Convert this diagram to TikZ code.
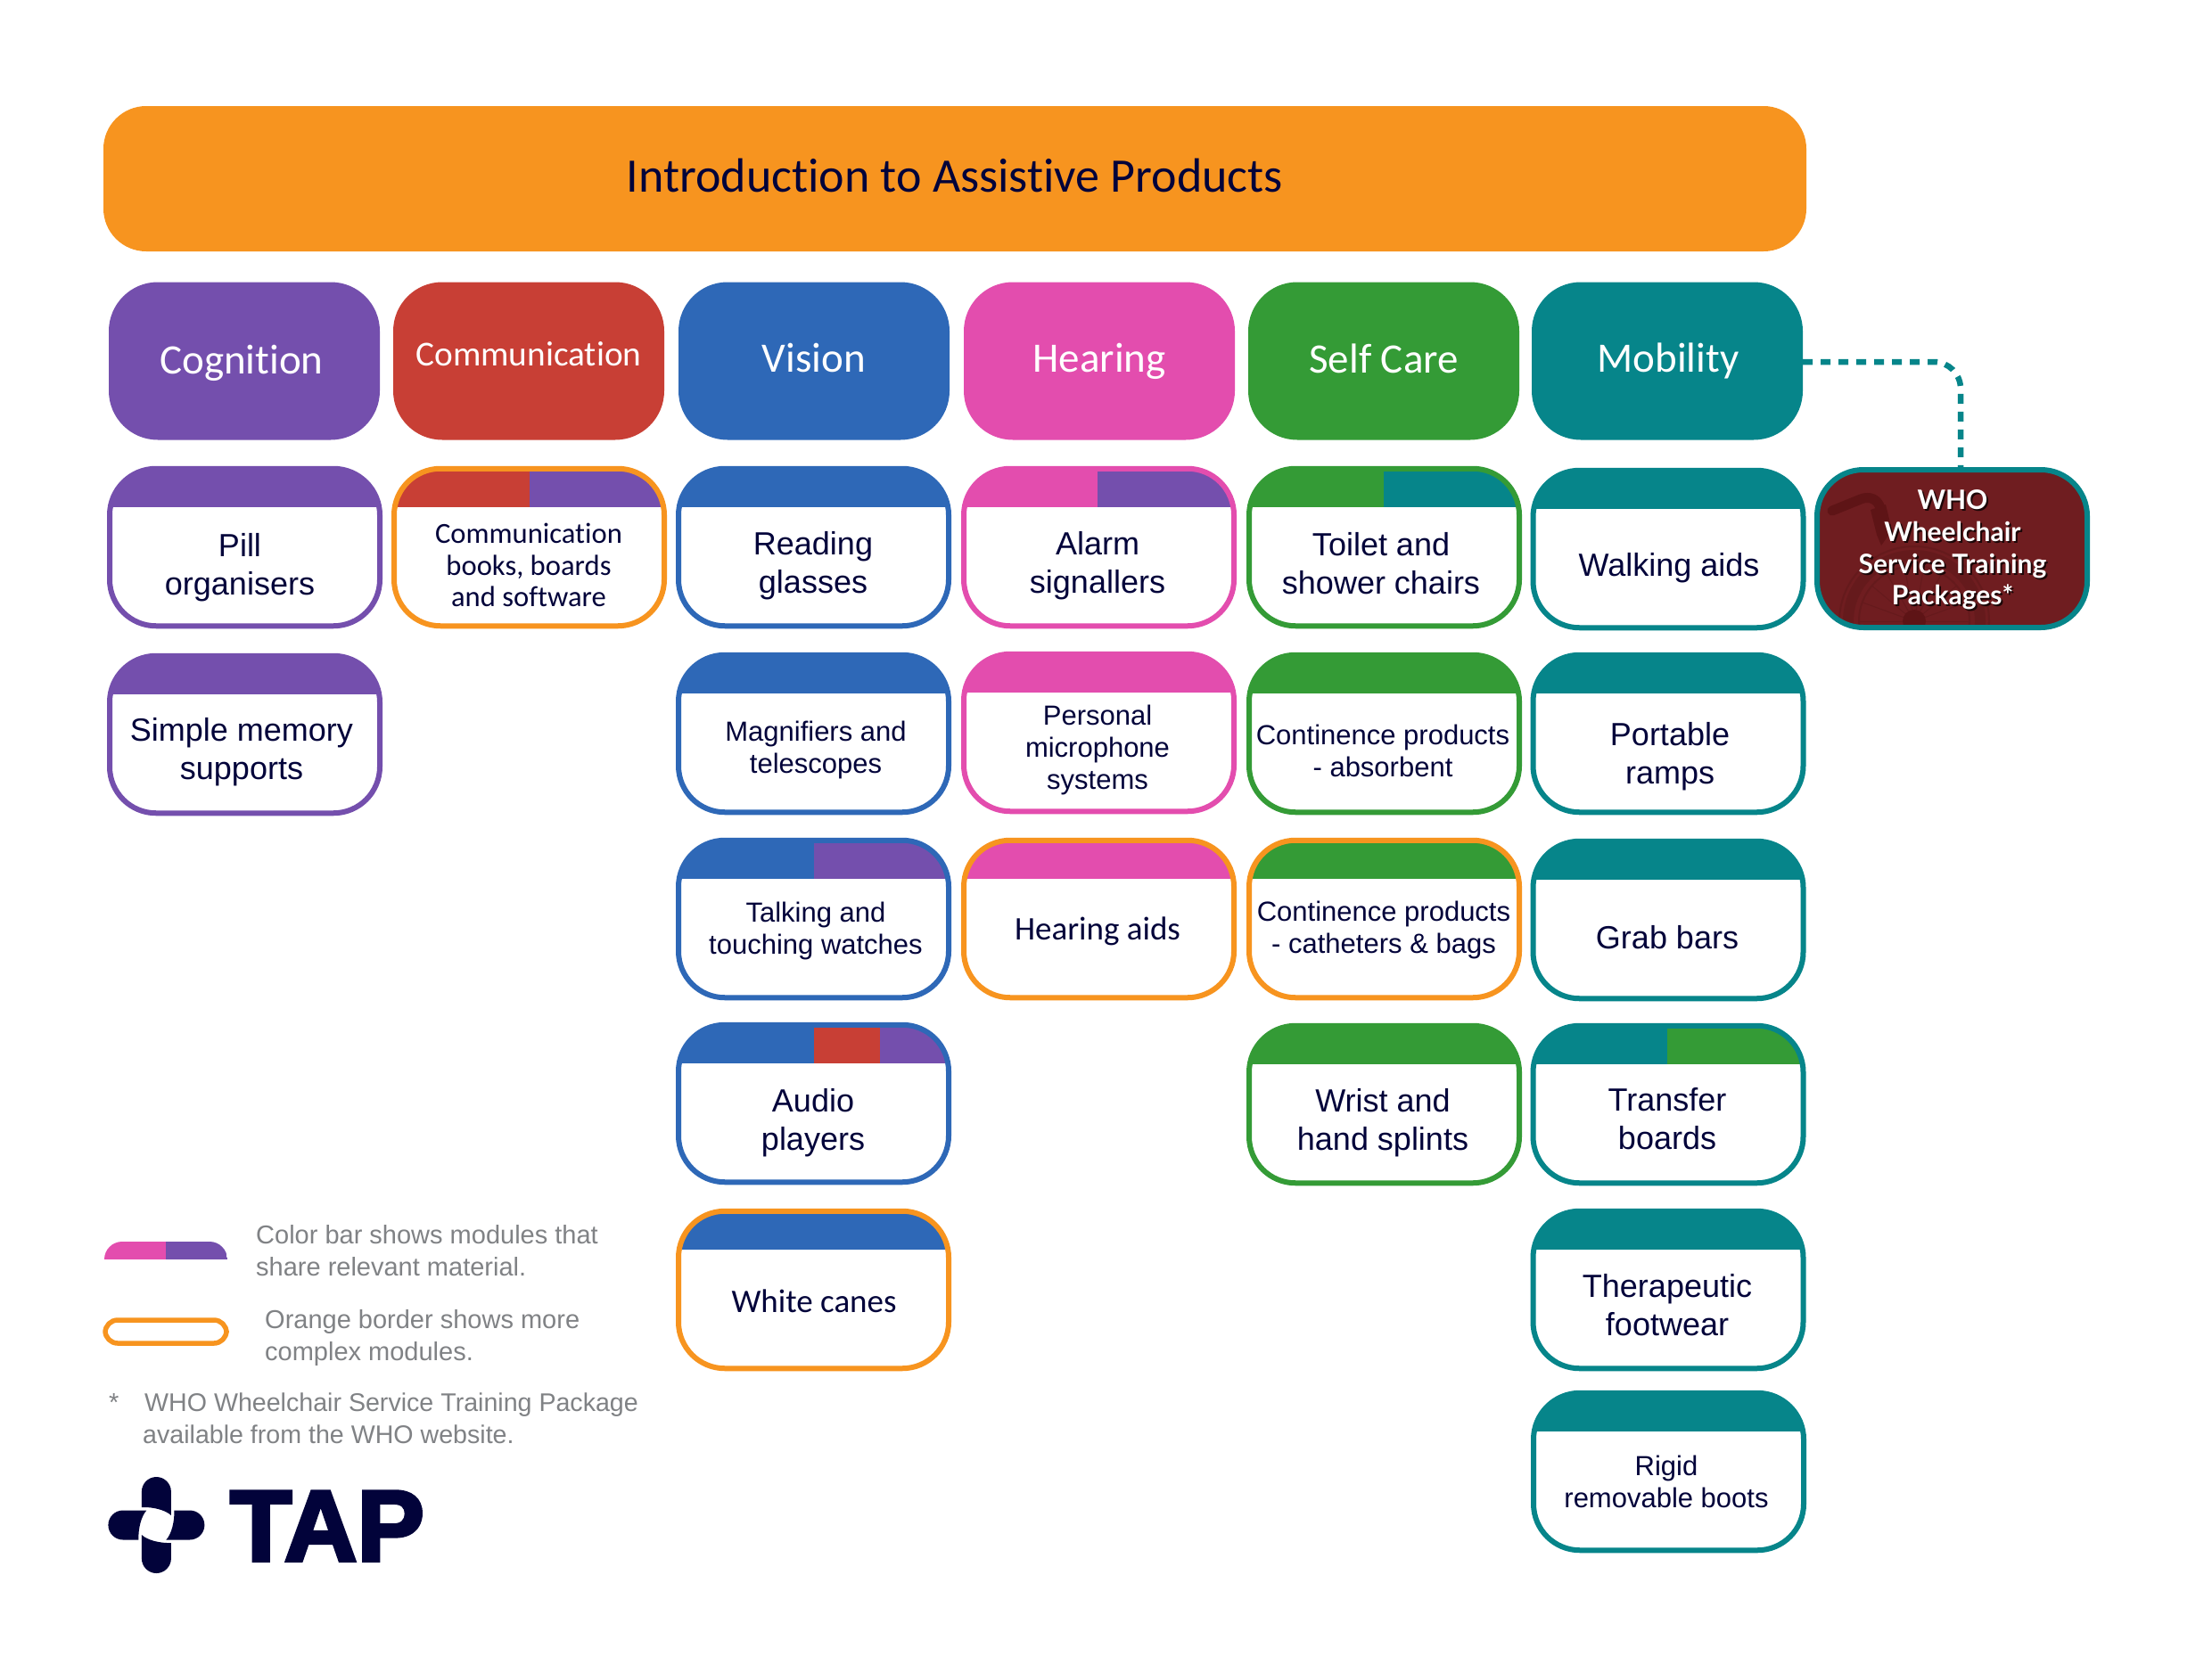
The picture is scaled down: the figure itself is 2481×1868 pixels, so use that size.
\documentclass[tikz,border=0pt]{standalone}
\usepackage{fontspec}
\setmainfont{Liberation Sans}
\newfontfamily\humf[Ligatures=CommonOff]{Carlito}
\newfontfamily\lator{Lato}
\newfontfamily\tapf[FakeBold=3.5]{Liberation Sans Bold}
\definecolor{cpurple}{HTML}{744FAD}
\definecolor{cred}{HTML}{C83F35}
\definecolor{cblue}{HTML}{2E68B7}
\definecolor{cpink}{HTML}{E34DAE}
\definecolor{cgreen}{HTML}{349B36}
\definecolor{cteal}{HTML}{06858A}
\definecolor{corange}{HTML}{F7941F}
\definecolor{cnavy}{HTML}{02033A}
\definecolor{cwine}{HTML}{6F1D20}
\definecolor{cwined}{HTML}{5E1416}
\definecolor{cwinem}{HTML}{651A1C}
\definecolor{cgrey}{HTML}{808285}
\tikzset{
 x=1pt,y=-1pt,
 headbox/.style={rectangle,rounded corners=55pt,minimum width=304pt,minimum height=177pt,inner sep=0pt,outer sep=0pt},
 cardbox/.style={rectangle,rounded corners=52pt,minimum width=303pt,minimum height=176.5pt,inner sep=0pt,outer sep=0pt,fill=white,line width=6pt},
 headtext/.style={text=white,inner sep=0pt,font=\humf\fontsize{47}{50}\selectfont},
 bigtext/.style={text=cnavy,inner sep=0pt,align=center,font=\fontsize{36}{43}\selectfont},
 smalltext/.style={text=cnavy,inner sep=0pt,align=center,font=\fontsize{31}{36}\selectfont},
 humtext/.style={text=cnavy,inner sep=0pt,align=center,font=\humf\fontsize{37}{35.5}\selectfont},
 legtext/.style={text=cgrey,inner sep=0pt,anchor=base west,font=\fontsize{29}{35.5}\selectfont},
 legsmall/.style={legtext,font=\fontsize{28.6}{35.5}\selectfont},
 whotext/.style={inner sep=0pt,align=center,font=\lator\bfseries\fontsize{30}{35.7}\selectfont},
 link/.style={draw=cteal,line width=6.5pt,dash pattern=on 11pt off 9pt,rounded corners=30pt},
}
% name, left, top, border colour, bar colour
\newcommand{\cardbase}[5]{%
 \node[cardbox] (#1) at (#2+154.5,#3+91) {};
 \begin{scope}
  \clip[rounded corners=52pt] (#1.north west) rectangle (#1.south east);
  \fill[#5] (#2,#3) rectangle (#2+310,#3+45.5);
  \cardextra
 \end{scope}
 \draw[#4,line width=6pt,rounded corners=52pt] (#1.north west) rectangle (#1.south east);
 \gdef\cardextra{}%
}
\newcommand{\cardextra}{}
\newcommand{\extra}[4]{\gdef\cardextra{\fill[#1] (#2,#3) rectangle (#4,#3+45.5);}}
\newcommand{\extrb}[7]{\gdef\cardextra{\fill[#1] (#2,#3) rectangle (#4,#3+45.5);\fill[#5] (#6,#3) rectangle (#7,#3+45.5);}}
\begin{document}
\begin{tikzpicture}
\useasboundingbox (0,0) rectangle (2481,1868);
\fill[white] (0,0) rectangle (2481,1868);
% title
\node[rectangle,fill=corange,rounded corners=48pt,minimum width=1910pt,minimum height=163pt,inner sep=0pt,outer sep=0pt] (title) at (1071,200.5) {};
\node[text=cnavy,inner sep=0pt,font=\humf\fontsize{54}{60}\selectfont] (titletext) at (1071,196.5) {Introduction to Assistive Products};
% headers
\node[headbox,fill=cpurple] (cog) at (274,405) {};
\node[headbox,fill=cred] (com) at (593,405) {};
\node[headbox,fill=cblue] (vis) at (913,405) {};
\node[headbox,fill=cpink] (hea) at (1233,405) {};
\node[headbox,fill=cgreen] (sel) at (1552,405) {};
\node[headbox,fill=cteal] (mob) at (1870,405) {};
\node[headtext] (cogt) at (271,407) {Cognition};
\node[headtext,font=\humf\fontsize{39.3}{44}\selectfont] (comt) at (593,397) {Communication};
\node[headtext] (vist) at (913,402) {Vision};
\node[headtext] (heat) at (1233,405) {Hearing};
\node[headtext] (selt) at (1552,402) {Self Care};
\node[headtext] (mobt) at (1871,405) {Mobility};
% cards column 1
\cardbase{pill}{120}{523}{cpurple}{cpurple}
\node[bigtext] (pillt) at (269,636.5) {Pill\\organisers};
\cardbase{memo}{120}{733}{cpurple}{cpurple}
\node[bigtext] (memot) at (271,844) {Simple memory\\supports};
% column 2
\extra{cpurple}{594}{523}{748}
\cardbase{book}{439}{523}{corange}{cred}
\node[humtext,font=\humf\fontsize{32.6}{35.5}\selectfont] (bookt) at (593,634) {Communication\\books, boards\\and software};
% column 3
\cardbase{read}{758}{523}{cblue}{cblue}
\node[bigtext] (readt) at (912,635) {Reading\\glasses};
\cardbase{magn}{758}{732}{cblue}{cblue}
\node[smalltext] (magnt) at (915,841) {Magnifiers and\\telescopes};
\extra{cpurple}{913}{940}{1068}
\cardbase{talk}{758}{940}{cblue}{cblue}
\node[smalltext] (talkt) at (915,1044) {Talking and\\touching watches};
\extrb{cred}{913}{1147}{987}{cpurple}{987}{1068}
\cardbase{audi}{758}{1147}{cblue}{cblue}
\node[bigtext] (audit) at (912,1259.5) {Audio\\players};
\cardbase{cane}{758}{1356}{corange}{cblue}
\node[humtext] (canet) at (913,1460) {White canes};
% column 4
\extra{cpurple}{1231}{523}{1388}
\cardbase{alar}{1078}{523}{cpink}{cpink}
\node[bigtext] (alart) at (1231,635) {Alarm\\signallers};
\cardbase{pers}{1078}{731}{cpink}{cpink}
\node[smalltext] (perst) at (1231,841.5) {Personal\\microphone\\systems};
\cardbase{haid}{1078}{940}{corange}{cpink}
\node[humtext] (haidt) at (1231,1044.5) {Hearing aids};
% column 5
\extra{cteal}{1552}{523}{1708}
\cardbase{toil}{1398}{523}{cgreen}{cgreen}
\node[bigtext] (toilt) at (1549,632) {Toilet and\\shower chairs};
\cardbase{cabs}{1398}{732}{cgreen}{cgreen}
\node[smalltext] (cabst) at (1551,842) {Continence products\\- absorbent};
\cardbase{ccat}{1398}{940}{corange}{cgreen}
\node[smalltext] (ccatt) at (1552,1043.5) {Continence products\\- catheters \& bags};
\cardbase{wris}{1398}{1148}{cgreen}{cgreen}
\node[bigtext] (wrist) at (1551,1260) {Wrist and\\hand splints};
% column 6
\cardbase{walk}{1716.5}{525}{cteal}{cteal}
\node[bigtext] (walkt) at (1872,637) {Walking aids};
\cardbase{ramp}{1716.5}{732}{cteal}{cteal}
\node[bigtext] (rampt) at (1873,849) {Portable\\ramps};
\cardbase{grab}{1716.5}{941}{cteal}{cteal}
\node[bigtext] (grabt) at (1870,1052) {Grab bars};
\extra{cgreen}{1870}{1148}{2026}
\cardbase{tran}{1716.5}{1148}{cteal}{cteal}
\node[bigtext] (trant) at (1870,1255.5) {Transfer\\boards};
\cardbase{ther}{1716.5}{1356}{cteal}{cteal}
\node[bigtext] (thert) at (1870,1464) {Therapeutic\\footwear};
\cardbase{rigi}{1717}{1560}{cteal}{cteal}
\node[smalltext] (rigit) at (1869,1662) {Rigid\\removable boots};
% WHO box
\node[rectangle,rounded corners=52pt,fill=cwine,minimum width=303pt,minimum height=177pt,inner sep=0pt,outer sep=0pt] (who) at (2189.5,615.5) {};
\begin{scope}
 \clip[rounded corners=52pt] (who.north west) rectangle (who.south east);
 \draw[cwinem,line width=12pt] (2147,697) circle[radius=74pt];
 \draw[cwinem,line width=2pt] (2147,697) circle[radius=84pt];
 \draw[cwinem,line width=2pt] (2147,697) circle[radius=62pt];
 \foreach \a in {0,20,...,340}{\draw[cwinem,line width=1pt] (2147,697) -- ++(\a:62pt);}
 \fill[cwined] (2147,697) circle[radius=13pt];
 \draw[cwined,line width=11pt,line cap=round,line join=round] (2055,573) -- (2087,560) .. controls (2097,556) and (2106,560) .. (2109,570);
 \fill[cwined] (2098,572) -- (2115,566) -- (2122,595) -- (2110,612) -- (2105,600) -- cycle;
\end{scope}
\draw[cteal,line width=6pt,rounded corners=52pt] (who.north west) rectangle (who.south east);
\coordinate (whotop) at (2199,524);
\path[link] ([yshift=-1pt]mob.east) -| (whotop);
\node[whotext,text=black!75!cwine] (whos) at (2192,619) {WHO\\Wheelchair\\Service Training\\Packages*};
\node[whotext,text=white] (whot) at (2190,617) {WHO\\Wheelchair\\Service Training\\Packages*};
% legend
\begin{scope}
 \clip[rounded corners=20pt] (117,1393) rectangle (255,1440);
 \fill[cpink] (117,1393) rectangle (186,1413);
 \fill[cpurple] (186,1393) rectangle (255,1413);
\end{scope}
\node[rectangle,draw=corange,fill=white,line width=5.5pt,rounded corners=14pt,minimum width=136pt,minimum height=26pt,inner sep=0pt,outer sep=0pt] (leg) at (186,1494) {};
\node[legtext,align=left] (leg1) at (287,1431) {Color bar shows modules that\\share relevant material.};
\node[legtext,align=left] (leg2) at (297,1526) {Orange border shows more\\complex modules.};
\node[legtext] (star) at (122,1583.5) {*};
\node[legsmall] (leg3) at (162,1583.5) {WHO Wheelchair Service Training Package};
\node[legsmall] (leg4) at (160,1619.5) {available from the WHO website.};
% logo
\begin{scope}[shift={(175.4pt,-1711pt)}]
 \foreach \a in {0,90,180,270}{
  \fill[cnavy,rotate=\a] (-16.5,-20) -- (-16.5,-37.5) .. controls (-16.5,-46.6) and (-9.1,-54) .. (0,-54) .. controls (9.1,-54) and (16.5,-46.6) .. (16.5,-37.5) -- (16.5,-11) .. controls (10,-17) and (-4,-20.5) .. (-16.5,-20) -- cycle;
 }
\end{scope}
\node[text=cnavy,inner sep=0pt,anchor=base west,font=\tapf\fontsize{113}{113}\selectfont] (tap) at (258,1751) {TAP};
\end{tikzpicture}
\end{document}
